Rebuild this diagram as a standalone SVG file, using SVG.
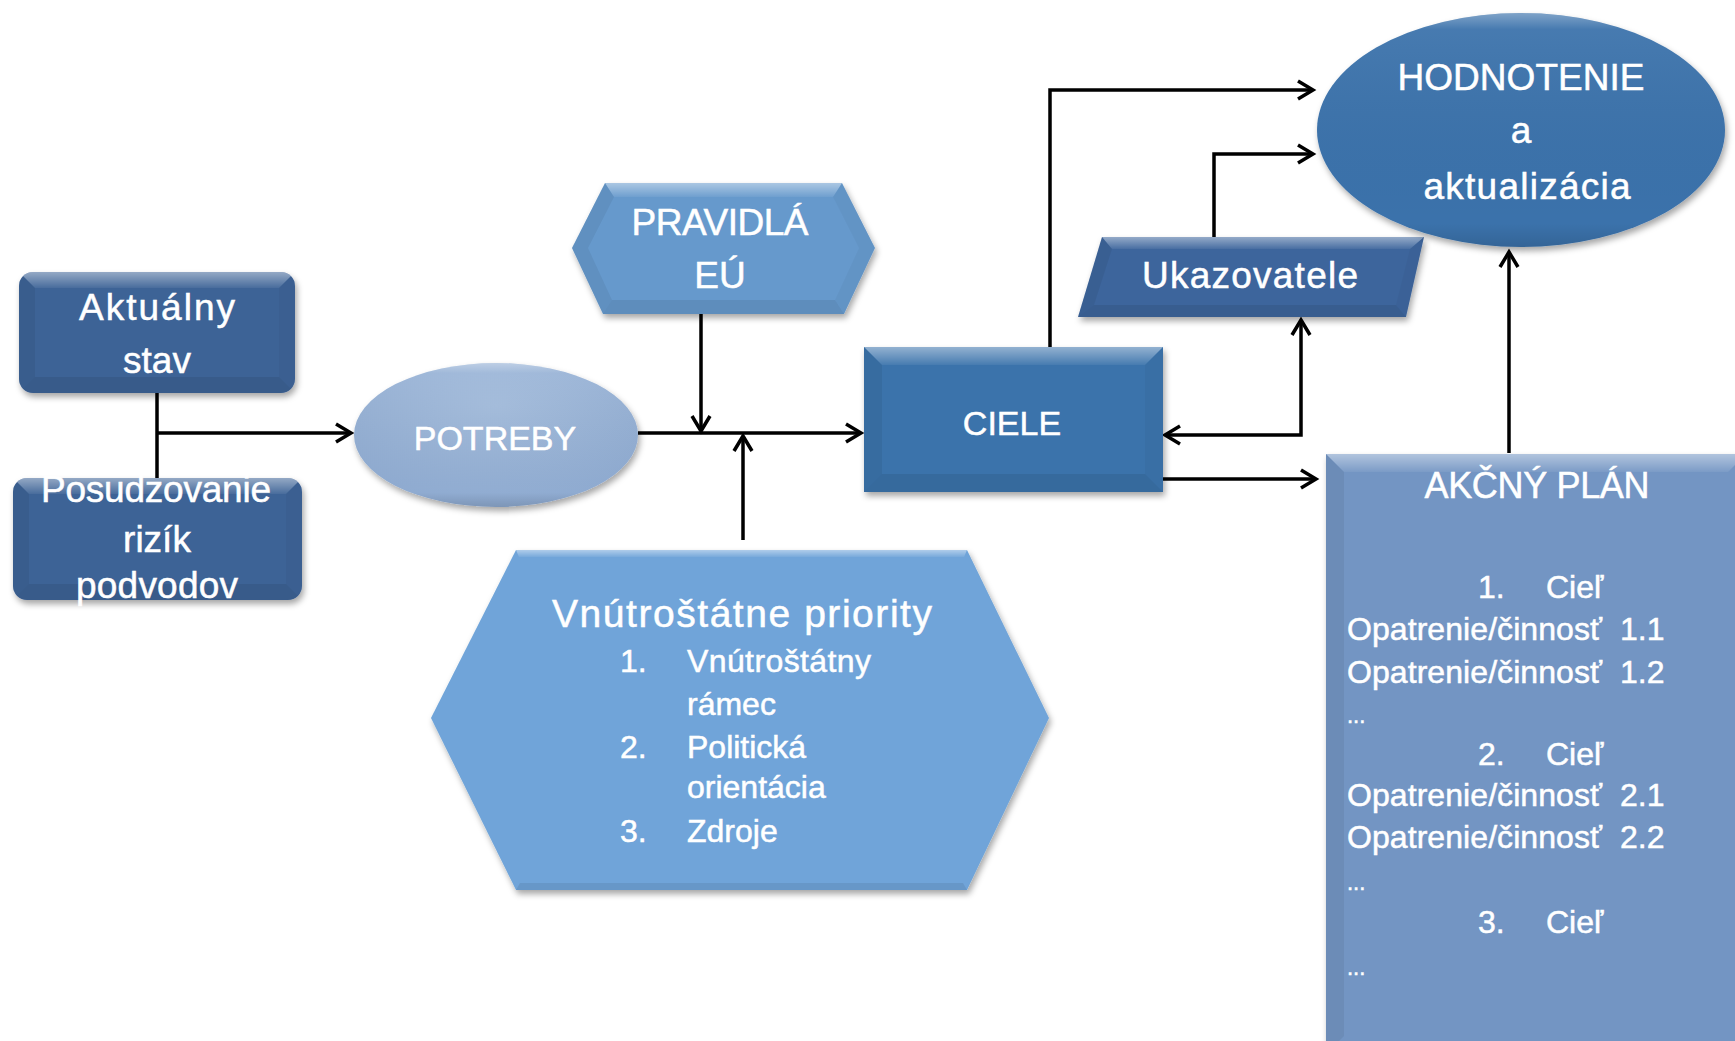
<svg xmlns="http://www.w3.org/2000/svg" width="1735" height="1041" viewBox="0 0 1735 1041">
<style>
  text { font-family: "Liberation Sans", Arial, sans-serif; fill: #ffffff; stroke: #ffffff; stroke-width: 0.5; }
  .t36 { font-size: 37px; text-anchor: middle; }
  .l32 { font-size: 32px; }
  .conn { fill: none; stroke: #000000; stroke-width: 3.5; }
  .shape { filter: url(#sh); }
  .gloss { fill: url(#gloss); }
  .bt { fill: url(#topg); }
  .bl { fill: #000000; fill-opacity: 0.06; }
  .br { fill: #000000; fill-opacity: 0.03; }
  .bb { fill: #000000; fill-opacity: 0.08; }
</style>
<defs>
  <filter id="sh" x="-10%" y="-10%" width="125%" height="130%">
    <feDropShadow dx="2" dy="4" stdDeviation="3" flood-color="#000" flood-opacity="0.35"/>
  </filter>
  <linearGradient id="gloss" x1="0" y1="0" x2="0" y2="1">
    <stop offset="0" stop-color="#ffffff" stop-opacity="0.35"/>
    <stop offset="0.07" stop-color="#ffffff" stop-opacity="0.06"/>
    <stop offset="0.9" stop-color="#000000" stop-opacity="0"/>
    <stop offset="1" stop-color="#000000" stop-opacity="0.12"/>
  </linearGradient>
  <linearGradient id="topg" x1="0" y1="0" x2="0" y2="1">
    <stop offset="0" stop-color="#ffffff" stop-opacity="0.45"/>
    <stop offset="1" stop-color="#ffffff" stop-opacity="0.06"/>
  </linearGradient>
  <radialGradient id="potreby" cx="0.5" cy="0.3" r="0.7">
    <stop offset="0" stop-color="#a3bcdc"/>
    <stop offset="1" stop-color="#8eaad0"/>
  </radialGradient>
  <clipPath id="c1"><rect x="19" y="272" width="276" height="121" rx="14"/></clipPath>
  <clipPath id="c2"><rect x="13" y="478" width="289" height="122" rx="14"/></clipPath>
  <marker id="arr" markerUnits="userSpaceOnUse" markerWidth="24" markerHeight="24" viewBox="0 0 24 24" refX="19" refY="12" orient="auto-start-reverse">
    <path d="M4,3 L19,12 L4,21" fill="none" stroke="#000" stroke-width="3.5"/>
  </marker>
</defs>

<g id="connectors">
  <path class="conn" d="M157,393 L157,478"/>
  <path class="conn" d="M157,433 L351,433" marker-end="url(#arr)"/>
  <path class="conn" d="M638,433 L861,433" marker-end="url(#arr)"/>
  <path class="conn" d="M701,314 L701,431" marker-end="url(#arr)"/>
  <path class="conn" d="M743,540 L743,436" marker-end="url(#arr)"/>
  <path class="conn" d="M1050,347 L1050,90 L1313,90" marker-end="url(#arr)"/>
  <path class="conn" d="M1214,237 L1214,154 L1313,154" marker-end="url(#arr)"/>
  <path class="conn" d="M1165,435 L1301,435 L1301,320" marker-start="url(#arr)" marker-end="url(#arr)"/>
  <path class="conn" d="M1163,479 L1316,479" marker-end="url(#arr)"/>
  <path class="conn" d="M1509,453 L1509,252" marker-end="url(#arr)"/>
</g>

<g id="aktualny-stav">
  <rect class="shape" x="19" y="272" width="276" height="121" rx="14" fill="#3e6396"/>
  <g clip-path="url(#c1)">
    <polygon class="bt" points="19,272 295,272 279,288 35,288"/>
    <polygon class="bl" points="19,272 35,288 35,377 19,393"/>
    <polygon class="br" points="295,272 295,393 279,377 279,288"/>
    <polygon class="bb" points="19,393 35,377 279,377 295,393"/>
  </g>
  <text class="t36" x="157" y="320" textLength="156">Aktuálny</text>
  <text class="t36" x="157" y="373">stav</text>
</g>

<g id="posudzovanie">
  <rect class="shape" x="13" y="478" width="289" height="122" rx="14" fill="#3e6396"/>
  <g clip-path="url(#c2)">
    <polygon class="bt" points="13,478 302,478 286,494 29,494"/>
    <polygon class="bl" points="13,478 29,494 29,584 13,600"/>
    <polygon class="br" points="302,478 302,600 286,584 286,494"/>
    <polygon class="bb" points="13,600 29,584 286,584 302,600"/>
  </g>
  <text class="t36" x="156" y="502" textLength="230">Posudzovanie</text>
  <text class="t36" x="157" y="552">rizík</text>
  <text class="t36" x="157" y="598" textLength="162">podvodov</text>
</g>

<g id="potreby">
  <ellipse class="shape" cx="496" cy="435" rx="142" ry="72" fill="url(#potreby)"/>
  <ellipse class="gloss" cx="496" cy="435" rx="142" ry="72"/>
  <text class="t36" x="495" y="450" style="font-size:34px">POTREBY</text>
</g>

<g id="pravidla">
  <polygon class="shape" points="605,183 842,183 875,248 844,314 603,314 572,248" fill="#6699cc"/>
  <polygon class="bt" points="605,183 842,183 833,197 614,197"/>
  <polygon class="bl" points="572,248 605,183 614,197 588,248"/>
  <polygon class="br" points="842,183 875,248 859,248 833,197"/>
  <polygon class="br" points="875,248 844,314 835,300 859,248"/>
  <polygon class="bb" points="844,314 603,314 612,300 835,300"/>
  <polygon class="bl" points="603,314 572,248 588,248 612,300"/>
  <text class="t36" x="720" y="235" textLength="177">PRAVIDLÁ</text>
  <text class="t36" x="720" y="288">EÚ</text>
</g>

<g id="ciele">
  <rect class="shape" x="864" y="347" width="299" height="145" fill="#3a73ab"/>
  <polygon class="bt" points="864,347 1163,347 1145,365 882,365"/>
  <polygon class="bl" points="864,347 882,365 882,474 864,492"/>
  <polygon class="br" points="1163,347 1163,492 1145,474 1145,365"/>
  <polygon class="bb" points="864,492 882,474 1145,474 1163,492"/>
  <text class="t36" x="1012" y="435" style="font-size:34px">CIELE</text>
</g>

<g id="ukazovatele">
  <polygon class="shape" points="1102,237 1424,237 1406,317 1078,317" fill="#3e659c"/>
  <polygon class="bt" points="1102,237 1424,237 1410,249 1112,249"/>
  <polygon class="bl" points="1102,237 1112,249 1094,305 1078,317"/>
  <polygon class="br" points="1424,237 1406,317 1396,305 1410,249"/>
  <polygon class="bb" points="1078,317 1094,305 1396,305 1406,317"/>
  <text class="t36" x="1250" y="288" textLength="216">Ukazovatele</text>
</g>

<g id="hodnotenie">
  <ellipse class="shape" cx="1521" cy="130" rx="204" ry="117" fill="#3b72ab"/>
  <ellipse class="gloss" cx="1521" cy="130" rx="204" ry="117"/>
  <text class="t36" x="1521" y="90" textLength="247">HODNOTENIE</text>
  <text class="t36" x="1521" y="143">a</text>
  <text class="t36" x="1527" y="199" textLength="207">aktualizácia</text>
</g>

<g id="vnutrostatne-priority">
  <polygon class="shape" points="516,550 967,550 1049,718 967,890 516,890 431,718" fill="#6fa4d9"/>
  <polygon class="bt" points="516,550 967,550 964,557 519,557"/>
  <polygon class="bb" points="967,890 516,890 520,883 963,883"/>
  <text class="t36" x="742" y="627" style="font-size:39px" textLength="380">Vnútroštátne priority</text>
  <text class="l32" x="620" y="672">1.</text>
  <text class="l32" x="687" y="672" textLength="184">Vnútroštátny</text>
  <text class="l32" x="687" y="715">rámec</text>
  <text class="l32" x="620" y="758">2.</text>
  <text class="l32" x="687" y="758">Politická</text>
  <text class="l32" x="687" y="798">orientácia</text>
  <text class="l32" x="620" y="842">3.</text>
  <text class="l32" x="687" y="842">Zdroje</text>
</g>

<g id="akcny-plan">
  <rect class="shape" x="1326" y="454" width="420" height="600" fill="#7395c3"/>
  <polygon class="bt" points="1326,454 1746,454 1728,472 1344,472"/>
  <polygon class="bl" points="1326,454 1344,472 1344,1036 1326,1054"/>
  <text class="t36" x="1537" y="498" style="font-size:36px" textLength="225">AKČNÝ PLÁN</text>
  <text class="l32" x="1478" y="598">1.</text>
  <text class="l32" x="1546" y="598">Cieľ</text>
  <text class="l32" x="1347" y="640" textLength="255">Opatrenie/činnosť</text>
  <text class="l32" x="1620" y="640">1.1</text>
  <text class="l32" x="1347" y="683" textLength="255">Opatrenie/činnosť</text>
  <text class="l32" x="1620" y="683">1.2</text>
  <text class="l32" x="1347" y="723" style="font-size:22px">...</text>
  <text class="l32" x="1478" y="765">2.</text>
  <text class="l32" x="1546" y="765">Cieľ</text>
  <text class="l32" x="1347" y="806" textLength="255">Opatrenie/činnosť</text>
  <text class="l32" x="1620" y="806">2.1</text>
  <text class="l32" x="1347" y="848" textLength="255">Opatrenie/činnosť</text>
  <text class="l32" x="1620" y="848">2.2</text>
  <text class="l32" x="1347" y="890" style="font-size:22px">...</text>
  <text class="l32" x="1478" y="933">3.</text>
  <text class="l32" x="1546" y="933">Cieľ</text>
  <text class="l32" x="1347" y="975" style="font-size:22px">...</text>
</g>
</svg>
